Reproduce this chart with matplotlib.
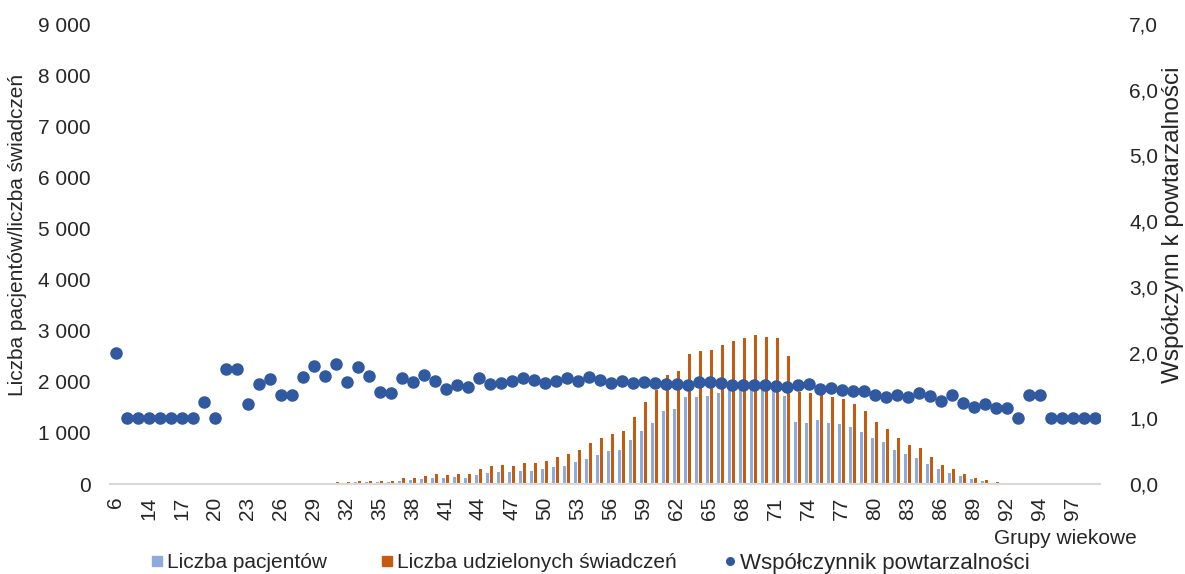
import numpy as np
import matplotlib
matplotlib.use('Agg')
import matplotlib.pyplot as plt
from matplotlib.lines import Line2D
from matplotlib.ticker import FuncFormatter, MultipleLocator

plt.rcParams['font.family'] = ['Liberation Sans', 'DejaVu Sans']

# age groups (categories on the x axis)
ages = (['6', '10', '12'] + [str(a) for a in range(14, 93)] +
        ['93', '93', '94', '95', '96', '97', '98', '99'])

# number of patients per age group
patients = [1, 1, 1, 1, 1, 1, 1, 1, 4, 2,
            4, 4, 5, 4, 9, 3, 3, 10, 14, 13,
            20, 20, 33, 37, 40, 45, 68, 75, 90, 120,
            122, 132, 126, 180, 225, 240, 228, 260, 262, 290,
            338, 360, 430, 497, 567, 636, 675, 860, 1040, 1195,
            1420, 1470, 1705, 1705, 1720, 1790, 1870, 1895, 1940, 1915,
            1925, 1725, 1205, 1200, 1260, 1185, 1170, 1115, 1020, 905,
            820, 670, 592, 515, 398, 300, 222, 155, 98, 60,
            28, 13, 3, 3, 3, 1, 1, 1, 1, 1]

# number of services provided per age group
services = [2, 1, 1, 1, 1, 1, 1, 1, 5, 2,
            7, 7, 6, 6, 15, 4, 4, 16, 25, 21,
            36, 31, 59, 61, 56, 63, 110, 117, 150, 189,
            176, 200, 189, 293, 345, 370, 359, 420, 413, 445,
            525, 582, 672, 809, 900, 972, 1045, 1306, 1600, 1830,
            2130, 2205, 2535, 2610, 2625, 2710, 2805, 2855, 2925, 2870,
            2865, 2500, 1800, 1780, 1840, 1710, 1665, 1565, 1430, 1220,
            1075, 900, 770, 700, 530, 375, 300, 190, 117, 72,
            33, 15, 3, 4, 4, 1, 1, 1, 1, 1]

# repeat coefficient (right axis)
coef = [2.00, 1.00, 1.00, 1.00, 1.00, 1.00, 1.00, 1.00, 1.25, 1.00,
        1.75, 1.75, 1.21, 1.52, 1.60, 1.35, 1.35, 1.63, 1.80, 1.65,
        1.82, 1.55, 1.78, 1.65, 1.40, 1.39, 1.61, 1.55, 1.66, 1.57,
        1.44, 1.50, 1.48, 1.62, 1.52, 1.53, 1.57, 1.62, 1.58, 1.54,
        1.57, 1.62, 1.57, 1.63, 1.58, 1.53, 1.56, 1.53, 1.55, 1.54,
        1.52, 1.52, 1.51, 1.55, 1.55, 1.53, 1.50, 1.51, 1.51, 1.50,
        1.49, 1.47, 1.51, 1.52, 1.45, 1.46, 1.43, 1.42, 1.41, 1.36,
        1.33, 1.35, 1.32, 1.39, 1.34, 1.26, 1.35, 1.24, 1.17, 1.21,
        1.16, 1.16, 1.00, 1.35, 1.35, 1.00, 1.00, 1.00, 1.00, 1.00]

c_pat = '#8FAADC'
c_srv = '#C55A11'
c_coef = '#3059A0'
txt = '#262626'

x = np.arange(len(ages))

fig = plt.figure(figsize=(11.85, 5.74), dpi=100)
ax = fig.add_axes([110 / 1185, 90 / 574, 990 / 1185, 460 / 574])

ax.bar(x - 0.18, patients, width=0.27, color=c_pat, zorder=2)
ax.bar(x + 0.18, services, width=0.27, color=c_srv, zorder=2)
ax.set_xlim(-0.5, len(ages) - 0.5)
ax.set_ylim(0, 9000)
ax.yaxis.set_major_locator(MultipleLocator(1000))
ax.yaxis.set_major_formatter(FuncFormatter(lambda v, p: f'{int(v):,}'.replace(',', ' ')))

ax.set_xticks(x[::3])
ax.set_xticklabels(ages[::3], rotation=90, va='top')

for s in ['top', 'left', 'right']:
    ax.spines[s].set_visible(False)
ax.spines['bottom'].set_color('#D9D9D9')
ax.spines['bottom'].set_linewidth(1.5)
ax.tick_params(axis='x', length=0, pad=9, labelsize=15, colors=txt)
ax.tick_params(axis='y', length=0, pad=14, labelsize=15, colors=txt)

ax2 = ax.twinx()
ax2.plot(x, coef, 'o', color=c_coef, markersize=8, zorder=3)
ax2.set_ylim(0, 7)
ax2.yaxis.set_major_locator(MultipleLocator(1))
ax2.yaxis.set_major_formatter(FuncFormatter(lambda v, p: f'{v:.1f}'.replace('.', ',')))
for s in ['top', 'left', 'right', 'bottom']:
    ax2.spines[s].set_visible(False)
ax2.tick_params(axis='y', length=0, pad=21, labelsize=15, colors=txt)

fig.text(18 / 1185, 1 - 235 / 574, 'Liczba pacjentów/liczba świadczeń', rotation=90,
         ha='center', va='center', fontsize=15, color=txt)
fig.text(1173 / 1185, 1 - 225 / 574, 'Współczynn k powtarzalności', rotation=90,
         ha='center', va='center', fontsize=17.5, color=txt)
fig.text(1137 / 1185, 1 - 538 / 574, 'Grupy wiekowe', ha='right', va='center',
         fontsize=15, color=txt)

# legend entries placed one by one
entries = [(152, 15, Line2D([], [], marker='s', linestyle='none', color=c_pat, markersize=7),
            'Liczba pacjentów'),
           (382, 15, Line2D([], [], marker='s', linestyle='none', color=c_srv, markersize=7),
            'Liczba udzielonych świadczeń'),
           (724, 16, Line2D([], [], marker='o', linestyle='none', color=c_coef, markersize=5.5),
            'Współczynnik powtarzalności')]
for px, fs, h, lab in entries:
    fig.legend([h], [lab], loc='center left', bbox_to_anchor=(px / 1185, 1 - 563 / 574),
               frameon=False, fontsize=fs, handlelength=0.5, handletextpad=0.2,
               labelcolor=txt, borderaxespad=0, borderpad=0)

fig.savefig('out.png', dpi=100)
